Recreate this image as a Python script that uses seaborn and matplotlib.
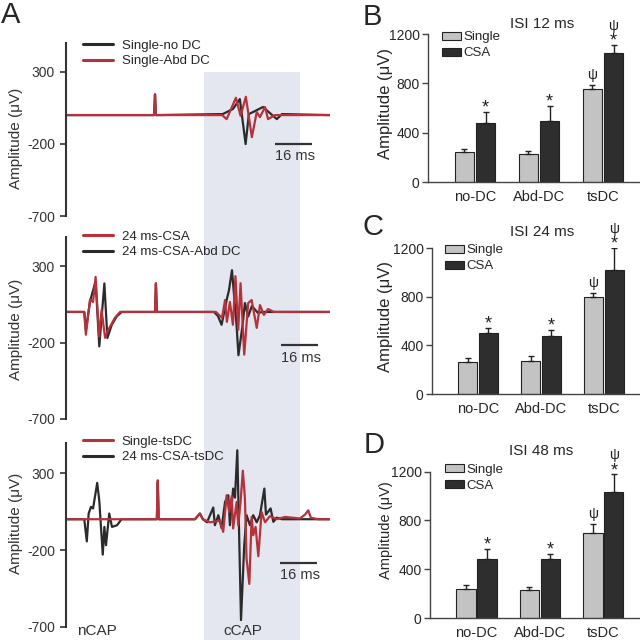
import numpy as np
import pandas as pd
import seaborn as sns
import matplotlib.pyplot as plt
import matplotlib.transforms as mtransforms
from matplotlib.patches import Rectangle
from matplotlib.lines import Line2D

## Panel A traces, vertices (time in ms, amplitude in uV)
t_end = 114.2
ccap_window = [59.7, 101.2]

# top trace pair
a1_nodc_t = [0, 38.1, 38.5, 38.9, 67.8, 72.2, 75.2, 77.7, 79.1, 80.9, 85.2, 91.2, 93.4, 114.2]
a1_nodc_v = [0, 0, 140, 0, 7, 42, 111, -201, 7, 21, 56, -28, 7, 0]
a1_abd_t = [0, 38.1, 38.5, 38.9, 67.5, 69.5, 73.5, 75.5, 77.8, 80.4, 82.5, 83.9, 86.1, 87.4, 90.4, 114.2]
a1_abd_v = [0, 0, 146, 0, 0, -28, 120, -5, 127, -153, 21, -14, 56, -28, 0, 0]

# middle trace pair
a2_csa_t = [0, 7.9, 8.6, 10.4, 11.7, 12.8, 14.3, 15.4, 16.9, 18.3, 21.2, 23.4, 38.5, 38.9, 39.3,
            64.9, 67.5, 68.8, 69.6, 70.9, 72.2, 73.3, 74.5, 75.5, 77.1, 78.8, 80.3, 82.5, 83.9,
            85.6, 87.4, 89.9, 114.2]
a2_csa_v = [0, 0, -149, 82, 65, 229, -160, 13, -169, -117, -37, 0, 0, 188, 0,
            0, -39, 78, -65, 65, -84, 234, -117, 188, -279, 58, 78, -104, 45,
            -19, 19, 0, 0]
a2_abd_t = [0, 7.9, 8.6, 10.4, 12.8, 14.4, 16.6, 17.9, 19.8, 21.9, 24.1, 38.5, 38.9, 39.3,
            64.0, 65.7, 67.3, 69.5, 70.5, 71.8, 73.8, 74.6, 76.4, 77.4, 78.8, 80.4, 83.0, 85.2, 114.2]
a2_abd_v = [0, 0, -120, 70, 200, -225, 186, -170, -84, -30, 0, 0, 185, 0,
            0, -26, -84, 78, 143, 273, -91, -283, -84, 58, -30, 39, -6, 0, 0]

# bottom trace pair
a3_single_t = [0, 39.3, 39.7, 40.1, 55.8, 57.9, 59.2, 62.3, 66.6, 68.0, 69.5, 70.6, 71.7, 72.3,
               73.8, 74.5, 75.5, 76.5, 77.4, 78.1, 79.3, 80.3, 81.0, 82.0, 83.2, 84.6, 86.1,
               88.2, 91.2, 94.7, 101.2, 103.4, 104.8, 105.9, 109.0, 114.2]
a3_single_v = [0, 0, 253, 0, 0, 37, 0, -20, -10, -82, 156, 47, 150, -60,
               112, -39, 112, 315, 134, -255, -420, 15, -104, -50, -240, 47, -20,
               20, 0, 15, 5, 30, 58, 10, 0, 0]
a3_csa_t = [0, 7.9, 9.0, 9.8, 10.8, 11.7, 13.5, 14.4, 15.9, 16.6, 17.3, 18.7, 19.9, 22.1, 24.0,
            39.3, 39.7, 40.1, 55.8, 57.9, 59.2, 61.0, 63.7, 64.4, 65.9, 67.3, 68.8, 70.2, 70.9,
            72.3, 73.1, 74.1, 75.7, 77.1, 78.1, 79.6, 81.0, 82.5, 83.9, 85.8, 86.5, 88.5, 89.7,
            91.1, 93.4, 114.2]
a3_csa_v = [0, 0, -144, 37, 80, 70, 236, 120, -230, -50, -169, 37, -50, -39, 0,
            0, 240, 0, 0, 37, 0, -20, 76, -39, 26, -58, 112, 156, -39,
            199, 140, 448, -655, -169, 26, -39, 26, -20, 26, 199, 30, 70, -17,
            10, 0, 0]

scale_len = 16
scale_start = [90.4, 93.0, 92.5]
scale_y = [-200, -219, -284]

## Panels B-D bar data (uV), upward SEM only
groups = ['no-DC', 'Abd-DC', 'tsDC']
isi_titles = ['ISI 12 ms', 'ISI 24 ms', 'ISI 48 ms']
single_amp = [[243, 227, 755], [263, 271, 797], [241, 233, 701]]
single_err = [[25, 24, 32], [33, 41, 33], [27, 22, 69]]
csa_amp = [[479, 495, 1047], [501, 476, 1018], [488, 488, 1033]]
csa_err = [[89, 122, 65], [41, 50, 181], [76, 41, 145]]

red = '#b5323a'
blk = '#2b2b2b'

sns.set_style('white')
plt.rcParams['font.family'] = ['Liberation Sans', 'DejaVu Sans']
plt.rcParams['axes.unicode_minus'] = False

fig = plt.figure(figsize=(6.4, 6.4), dpi=100)

def px_axes(left, top, right, bottom):
    return fig.add_axes([left / 640, 1 - bottom / 640, (right - left) / 640, (bottom - top) / 640])

# ---- panel A
trace_axes = [px_axes(66, 43, 330, 216), px_axes(66, 237, 330, 419), px_axes(66, 443, 330, 627)]
ytops = [500, 490, 495]
trace_sets = [
    [(a1_nodc_t, a1_nodc_v, blk, 'Single-no DC'), (a1_abd_t, a1_abd_v, red, 'Single-Abd DC')],
    [(a2_abd_t, a2_abd_v, blk, '24 ms-CSA-Abd DC'), (a2_csa_t, a2_csa_v, red, '24 ms-CSA')],
    [(a3_csa_t, a3_csa_v, blk, '24 ms-CSA-tsDC'), (a3_single_t, a3_single_v, red, 'Single-tsDC')],
]
legend_order = [[0, 1], [1, 0], [1, 0]]
leg_anchor = [(0.064, 1.02), (0.064, 1.036), (0.064, 1.04)]
ylab_y = [0.45, 0.49, 0.5625]

for i, ax in enumerate(trace_axes):
    ax.set_facecolor('none')
    handles = []
    for t, v, c, lab in trace_sets[i]:
        sns.lineplot(x=t, y=v, ax=ax, color=c, lw=1.6, estimator=None, sort=False)
        handles.append(Line2D([], [], color=c, lw=2.2, label=lab))
    ax.set_xlim(0, t_end)
    ax.set_ylim(-700, ytops[i])
    ax.set_xticks([])
    ax.set_yticks([300, -200, -700])
    sns.despine(ax=ax, bottom=True)
    ax.spines['left'].set_color('#333333')
    ax.spines['left'].set_linewidth(1.5)
    ax.tick_params(axis='y', direction='out', length=4, width=1.2, color='#333333',
                   labelsize=10, labelcolor='#333333', pad=4, left=True)
    ax.set_ylabel('Amplitude (μV)', fontsize=11, color='#333333')
    ax.yaxis.set_label_coords(-0.163, ylab_y[i])
    ax.legend(handles=[handles[k] for k in legend_order[i]], loc='upper left',
              bbox_to_anchor=leg_anchor[i], frameon=False, borderaxespad=0, borderpad=0,
              handlelength=2.3, handletextpad=0.65, labelspacing=0.25, fontsize=9.5)
    x0 = scale_start[i]
    ax.plot([x0, x0 + scale_len], [scale_y[i], scale_y[i]], color='#333333', lw=1.6,
            solid_capstyle='butt')
    ax.annotate('%d ms' % scale_len, xy=(x0, scale_y[i]), xytext=(0, -9),
                textcoords='offset points', ha='left', va='center', fontsize=10.5,
                color='#333333')

ax3 = trace_axes[2]
ax3.text(13.4, -728, 'nCAP', ha='center', va='center', fontsize=11, color='#333333', clip_on=False)
ax3.text(76.5, -728, 'cCAP', ha='center', va='center', fontsize=11, color='#333333', clip_on=False)

# shaded cCAP window across the three trace panels
ax1 = trace_axes[0]
y_top = fig.transFigure.inverted().transform(ax1.transData.transform((0, 300)))[1]
blend = mtransforms.blended_transform_factory(ax1.transData, fig.transFigure)
fig.add_artist(Rectangle((ccap_window[0], 0), ccap_window[1] - ccap_window[0], y_top,
                         transform=blend, facecolor='#e4e6f0', edgecolor='none', zorder=-1))

# ---- panels B-D
bar_axes = [px_axes(428, 34, 640, 182), px_axes(432, 248, 640, 394), px_axes(430, 471.7, 640, 618)]
bar_leg_anchor = [(0.066, 1.017), (0.0625, 1.024), (0.071, 1.053)]
title_pos = [(0.538, 1.068), (0.529, 1.11), (0.529, 1.14)]
bar_ylab = [(-0.165, 0.53, 12), (-0.1875, 0.534, 12), (-0.176, 0.60, 10.5)]

for i, ax in enumerate(bar_axes):
    df = pd.DataFrame({'group': groups * 2,
                       'cond': ['Single'] * 3 + ['CSA'] * 3,
                       'amp': single_amp[i] + csa_amp[i]})
    sns.barplot(data=df, x='group', y='amp', hue='cond', ax=ax,
                palette={'Single': '#c3c3c3', 'CSA': '#2e2e2e'},
                width=0.66, gap=0.08, edgecolor='#222222', linewidth=0.8, errorbar=None)
    errs = [single_err[i], csa_err[i]]
    bar_conts = list(ax.containers)
    for k, cont in enumerate(bar_conts):
        for j, bar in enumerate(cont.patches):
            x = bar.get_x() + bar.get_width() / 2
            h = bar.get_height()
            e = errs[k][j]
            ax.errorbar(x, h, yerr=[[0], [e]], fmt='none', ecolor='#222222',
                        elinewidth=1, capsize=2.5, capthick=1)
            if k == 1:
                ax.annotate('*', xy=(x, h + e), xytext=(0, -0.5), textcoords='offset points',
                            ha='center', va='baseline', fontsize=13, color='#222222')
            if groups[j] == 'tsDC':
                off = 4.5 if k == 0 else 11
                ax.annotate('ψ', xy=(x, h + e), xytext=(0, off), textcoords='offset points',
                            ha='center', va='baseline', fontsize=10, color='#222222')
    old = ax.get_legend()
    hnd = old.legend_handles
    labs = [t.get_text() for t in old.get_texts()]
    ax.legend(hnd, labs, loc='upper left', bbox_to_anchor=bar_leg_anchor[i], frameon=False,
              borderaxespad=0, borderpad=0, handlelength=1.44, handleheight=0.55,
              handletextpad=0.2, labelspacing=0.3, fontsize=9.5)
    ax.set_xlim(-0.734, 2.578)
    ax.set_ylim(0, 1200)
    ax.set_yticks([0, 400, 800, 1200])
    ax.set_xlabel('')
    sns.despine(ax=ax)
    for s in ['left', 'bottom']:
        ax.spines[s].set_color('#444444')
        ax.spines[s].set_linewidth(1)
    ax.tick_params(axis='y', direction='out', length=4, width=1, color='#444444',
                   labelsize=10, pad=2, left=True)
    ax.tick_params(axis='x', length=0, pad=6, labelsize=10.5)
    lx, ly, fs = bar_ylab[i]
    ax.set_ylabel('Amplitude (μV)', fontsize=fs)
    ax.yaxis.set_label_coords(lx, ly)
    ax.text(title_pos[i][0], title_pos[i][1], isi_titles[i], transform=ax.transAxes,
            ha='center', va='center', fontsize=11)

# panel letters
for lab, x, yb in [('A', 1, 23), ('B', 363, 25), ('C', 363, 235), ('D', 364, 453)]:
    fig.text(x / 640, 1 - yb / 640, lab, fontsize=21, va='baseline', ha='left')

fig.savefig('out.png', dpi=100)
